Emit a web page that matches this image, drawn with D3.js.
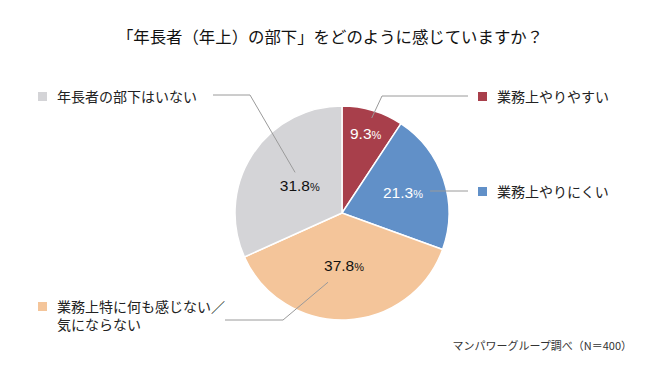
<!DOCTYPE html>
<html>
<head>
<meta charset="utf-8">
<script src="https://cdn.jsdelivr.net/npm/d3@7"></script>
<style>
  body { margin: 0; background: #fff; }
  text { font-family: "Noto Sans CJK JP", "Noto Sans", sans-serif; }
  text.legend { font-family: "Liberation Sans", "Noto Sans CJK JP", sans-serif; }
</style>
</head>
<body>
<script>
var Width = 660;
var Height = 370;

// data
var categories = ["業務上やりやすい", "業務上やりにくい", "業務上特に何も感じない／気にならない", "年長者の部下はいない"];
var legendLines = [["業務上やりやすい"], ["業務上やりにくい"], ["業務上特に何も感じない／", "気にならない"], ["年長者の部下はいない"]];
var values = [9.3, 21.3, 37.8, 31.8];
var colors = ["#a83f4b", "#6190c8", "#f4c59a", "#d4d4d7"];
var labelColors = ["#fff", "#fff", "#111", "#111"];

var title = "「年長者（年上）の部下」をどのように感じていますか？";
var source = "マンパワーグループ調べ（N＝400）";

// layout of labels / leaders (fractions of radius, angle fraction in slice)
var labelR = [0.77, 0.6, 0.5, 0.47];
var leadStart = [[0.52, 0.93], [0.59, 0.84], [0.6, 0.66], [0.57, 0.58]];
var legendPos = [
  { side: "right", x: 478, y: 97, elbow: 382 },
  { side: "right", x: 478, y: 192, elbow: null },
  { side: "left", x: 38, y: 307, lineY: 320, lineX: 225, elbow: 283 },
  { side: "left", x: 38, y: 97, lineY: 95, lineX: 213, elbow: 250 }
];

var cx = 342, cy = 213, R = 107;

var svg = d3.select("body").append("svg")
  .attr("width", Width)
  .attr("height", Height);

svg.append("text")
  .attr("x", 330)
  .attr("y", 43)
  .attr("text-anchor", "middle")
  .attr("font-size", 16.4)
  .attr("fill", "#111")
  .text(title);

var pie = d3.pie().sort(null).value(function (d) { return d; });
var arcs = pie(values);
var arc = d3.arc().innerRadius(0).outerRadius(R);

var g = svg.append("g").attr("transform", "translate(" + cx + "," + cy + ")");

g.selectAll("path")
  .data(arcs)
  .enter()
  .append("path")
  .attr("d", arc)
  .attr("fill", function (d, i) { return colors[i]; })
  .attr("stroke", "#fff")
  .attr("stroke-width", 1.5);

function polar(a, r) {
  return [Math.sin(a) * r, -Math.cos(a) * r];
}

// percent labels
arcs.forEach(function (d, i) {
  var mid = (d.startAngle + d.endAngle) / 2;
  var p = polar(mid, R * labelR[i]);
  var t = g.append("text")
    .attr("x", p[0])
    .attr("y", p[1] + 5)
    .attr("text-anchor", "middle")
    .attr("fill", labelColors[i])
    .style("font-family", "'Liberation Sans', Arial, sans-serif");
  t.append("tspan").attr("font-size", 15.5).text(values[i].toFixed(1));
  t.append("tspan").attr("font-size", 11).text("%");
});

// leader lines
arcs.forEach(function (d, i) {
  var a = d.startAngle + (d.endAngle - d.startAngle) * leadStart[i][0];
  var p = polar(a, R * leadStart[i][1]);
  var s = [cx + p[0], cy + p[1]];
  var L = legendPos[i];
  var pts;
  if (L.side === "right") {
    var ly = L.y - 1;
    if (L.elbow) pts = [s, [L.elbow, ly], [L.x - 10, ly]];
    else pts = [[s[0], ly], [L.x - 10, ly]];
  } else {
    pts = [s, [L.elbow, L.lineY], [L.lineX, L.lineY]];
  }
  svg.append("path")
    .attr("d", d3.line()(pts))
    .attr("fill", "none")
    .attr("stroke", "#9a9a9a")
    .attr("stroke-width", 1);
});

// legend
legendLines.forEach(function (lines, i) {
  var L = legendPos[i];
  svg.append("rect")
    .attr("x", L.x)
    .attr("y", L.y - 5)
    .attr("width", 9)
    .attr("height", 9)
    .attr("fill", colors[i]);
  lines.forEach(function (txt, k) {
    svg.append("text")
      .attr("class", "legend")
      .attr("x", L.x + 19)
      .attr("y", L.y + 5 + k * 17.5)
      .attr("font-size", 14)
      .attr("fill", "#222")
      .text(txt);
  });
});

svg.append("text")
  .attr("x", 632)
  .attr("y", 350)
  .attr("text-anchor", "end")
  .attr("font-size", 11)
  .attr("fill", "#333")
  .text(source);
</script>
</body>
</html>
